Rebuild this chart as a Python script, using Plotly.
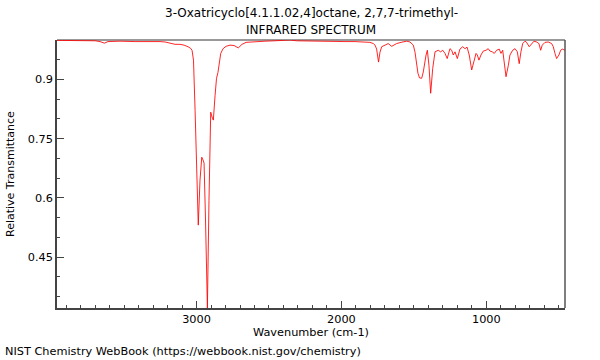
import plotly.graph_objects as go

# Wavenumber (cm-1) and relative transmittance
wavenumber = [
    3963, 3838, 3700, 3666, 3636, 3611, 3528, 3424, 3321, 3252, 3217, 3183, 3148, 3114,
    3086, 3059, 3041, 3031, 3021, 3010, 3000, 2988, 2976, 2964, 2955, 2948, 2938, 2925,
    2914, 2902, 2893, 2884, 2872, 2862, 2852, 2833, 2817, 2796, 2769, 2741, 2712, 2686,
    2658, 2596, 2527, 2458, 2389, 2355, 2309, 2217, 2148, 2079, 1975, 1906, 1851, 1817,
    1803, 1780, 1768, 1757, 1744, 1734, 1722, 1699, 1677, 1653, 1637, 1619, 1589, 1550,
    1527, 1504, 1492, 1481, 1472, 1461, 1446, 1435, 1426, 1416, 1407, 1396, 1384, 1370,
    1354, 1332, 1315, 1301, 1285, 1270, 1251, 1239, 1228, 1216, 1200, 1182, 1163, 1147,
    1133, 1118, 1101, 1085, 1071, 1062, 1051, 1037, 1021, 1002, 987, 975, 959, 945,
    929, 911, 899, 887, 876, 864, 848, 837, 818, 802, 786, 773, 761, 749,
    733, 722, 704, 687, 671, 653, 637, 625, 614, 595, 573, 549, 538, 526,
    515, 499, 487, 476, 457,
]
transmittance = [
    0.999, 0.999, 0.998, 0.996, 0.992, 0.996, 0.997, 0.996, 0.997, 0.996, 0.995, 0.992, 0.989, 0.989,
    0.987, 0.983, 0.979, 0.974, 0.949, 0.822, 0.670, 0.531, 0.645, 0.703, 0.696, 0.688, 0.544, 0.321,
    0.594, 0.817, 0.805, 0.797, 0.860, 0.903, 0.918, 0.966, 0.978, 0.984, 0.987, 0.986, 0.980, 0.989,
    0.994, 0.996, 0.997, 0.998, 0.999, 1.000, 0.998, 0.997, 0.997, 0.997, 0.996, 0.996, 0.995, 0.994,
    0.994, 0.991, 0.987, 0.977, 0.944, 0.969, 0.983, 0.987, 0.991, 0.984, 0.988, 0.991, 0.994, 0.997,
    0.995, 0.987, 0.969, 0.936, 0.916, 0.904, 0.903, 0.919, 0.944, 0.962, 0.974, 0.936, 0.865, 0.928,
    0.970, 0.974, 0.970, 0.974, 0.966, 0.953, 0.978, 0.974, 0.962, 0.970, 0.953, 0.977, 0.983, 0.978,
    0.982, 0.962, 0.924, 0.945, 0.966, 0.962, 0.949, 0.962, 0.972, 0.974, 0.978, 0.972, 0.970, 0.966,
    0.974, 0.977, 0.966, 0.974, 0.945, 0.907, 0.936, 0.962, 0.974, 0.978, 0.970, 0.940, 0.970, 0.991,
    0.997, 0.994, 0.983, 0.991, 0.997, 0.995, 0.991, 0.974, 0.987, 0.994, 0.995, 0.991, 0.983, 0.966,
    0.953, 0.962, 0.974, 0.977, 0.974,
]

x_ticks = [1000, 2000, 3000]
y_ticks = [0.45, 0.6, 0.75, 0.9]

title_line1 = "3-Oxatricyclo[4.1.1.02,4]octane, 2,7,7-trimethyl-"
title_line2 = "INFRARED SPECTRUM"
x_title = "Wavenumber (cm-1)"
y_title = "Relative Transmittance"
footer = "NIST Chemistry WebBook (https://webbook.nist.gov/chemistry)"

FONT = "DejaVu Sans"
FS = 12
FS_SMALL = 11.3
AXIS = "#444444"

fig = go.Figure()
fig.add_trace(go.Scatter(
    x=wavenumber, y=transmittance, mode="lines",
    line=dict(color="rgba(255,0,0,0.85)", width=1),
    hoverinfo="skip", showlegend=False,
))

fig.update_layout(
    width=600, height=360,
    margin=dict(l=57, r=35, t=40, b=52),
    paper_bgcolor="white", plot_bgcolor="white",
    font=dict(family=FONT, size=FS, color="black"),
    showlegend=False,
    xaxis=dict(
        range=[3963, 457], autorange=False,
        tickvals=x_ticks, ticktext=[str(v) for v in x_ticks],
        ticks="inside", ticklen=7, tickcolor=AXIS, tickwidth=1,
        minor=dict(dtick=100, tick0=0, ticks="inside", ticklen=3, tickcolor=AXIS),
        showgrid=False, zeroline=False,
        showline=True, linecolor=AXIS, linewidth=1.5, mirror=False,
        tickfont=dict(family=FONT, size=FS_SMALL, color="black"),
    ),
    yaxis=dict(
        range=[0.321, 1.0], autorange=False,
        tickvals=y_ticks, ticktext=[str(v) for v in y_ticks],
        ticks="inside", ticklen=7, tickcolor=AXIS, tickwidth=1,
        minor=dict(dtick=0.05, tick0=0, ticks="inside", ticklen=3, tickcolor=AXIS),
        showgrid=False, zeroline=False,
        showline=True, linecolor=AXIS, linewidth=1.5, mirror=False,
        tickfont=dict(family=FONT, size=FS_SMALL, color="black"),
    ),
)

# Top (gray) and right (dark) frame lines
fig.add_shape(type="line", xref="paper", yref="paper", x0=0, x1=1, y0=1, y1=1,
              line=dict(color="#999999", width=2), layer="below")
fig.add_shape(type="line", xref="paper", yref="paper", x0=1, x1=1, y0=0, y1=1,
              line=dict(color="#555555", width=1.5))

fig.add_annotation(text=title_line1, xref="paper", yref="paper", x=0.5, y=1.1007,
                   showarrow=False, xanchor="center", yanchor="middle",
                   font=dict(family=FONT, size=FS, color="black"))
fig.add_annotation(text=title_line2, xref="paper", yref="paper", x=0.5, y=1.037,
                   showarrow=False, xanchor="center", yanchor="middle",
                   font=dict(family=FONT, size=FS, color="black"))
fig.add_annotation(text=x_title, xref="paper", yref="paper", x=0.5, y=-0.0925,
                   showarrow=False, xanchor="center", yanchor="middle",
                   font=dict(family=FONT, size=FS_SMALL, color="black"))
fig.add_annotation(text=y_title, xref="paper", yref="paper", x=-0.0925, y=0.5,
                   textangle=-90, showarrow=False, xanchor="center", yanchor="middle",
                   font=dict(family=FONT, size=11, color="black"))
fig.add_annotation(text=footer, xref="paper", yref="paper", x=-0.1063, y=-0.164,
                   showarrow=False, xanchor="left", yanchor="middle",
                   font=dict(family=FONT, size=FS_SMALL, color="black"))

fig.write_html("out.html", config={"displayModeBar": False},
               post_script="document.body.style.margin='0';document.body.style.overflow='hidden';")
